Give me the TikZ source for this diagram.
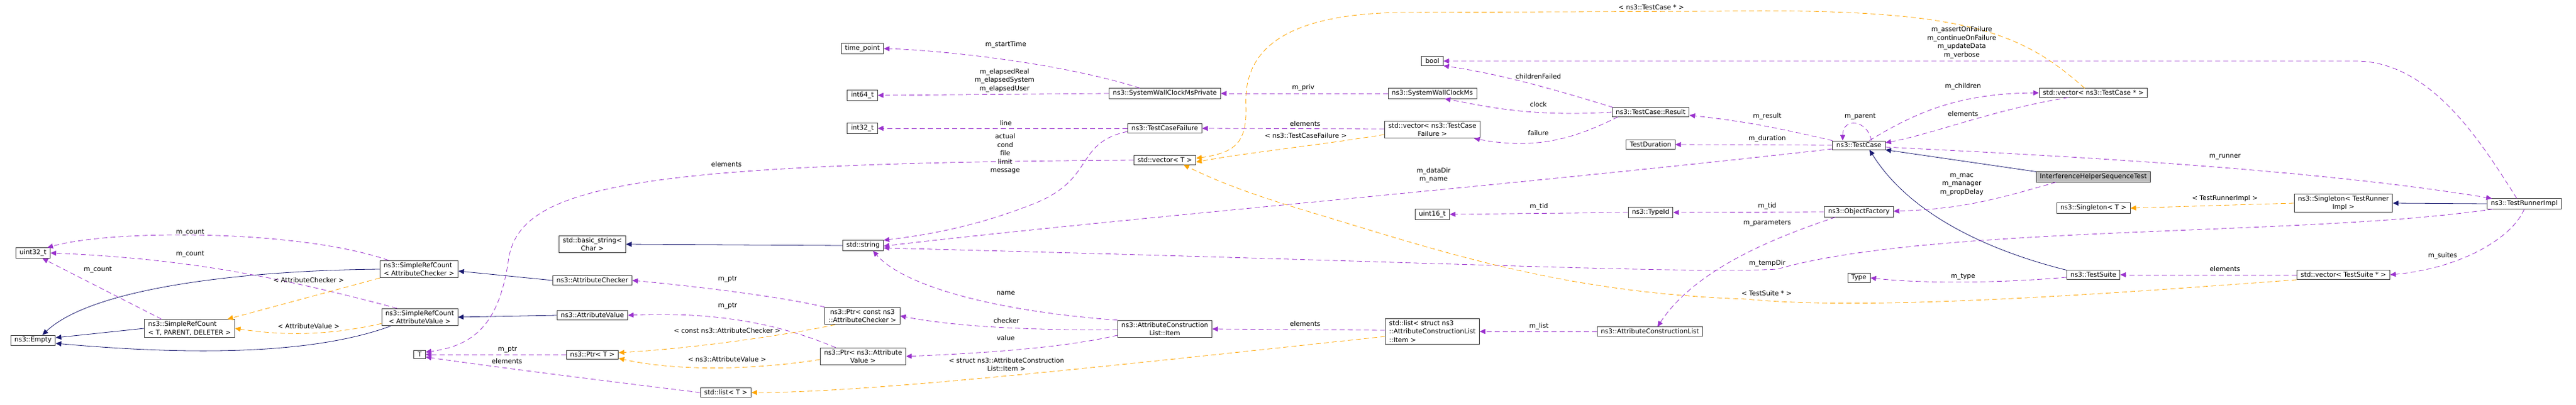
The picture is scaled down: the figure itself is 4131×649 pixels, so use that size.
\documentclass[tikz,border=0pt]{standalone}
\usepackage{fontspec}
\setmainfont{DejaVu Sans}
\usetikzlibrary{arrows.meta}
\definecolor{usecol}{RGB}{154,50,205}
\definecolor{tmplcol}{RGB}{255,165,0}
\definecolor{inhcol}{RGB}{25,25,112}
\tikzset{
  cls/.style={draw=black!75, fill=white, line width=0.9pt, align=center, inner xsep=6pt, inner ysep=3pt, font=\fontsize{10.5}{13.5}\selectfont},
  lbl/.style={align=center, inner sep=0pt, font=\fontsize{10.5}{13.5}\selectfont},
  tip/.style={-{Triangle[length=9pt,width=8pt]}},
  use/.style={tip, draw=usecol, line width=0.8pt, dash pattern=on 8pt off 5pt},
  tmpl/.style={tip, draw=tmplcol, line width=0.8pt, dash pattern=on 8pt off 5pt},
  inh/.style={tip, draw=inhcol, line width=0.8pt}
}
\begin{document}
\begin{tikzpicture}[x=1pt, y=-1pt]
    \useasboundingbox (0,0) rectangle (4131,649);

    \node[cls] (empty) at (53,546) {ns3::Empty};
    \node[cls] (uintA) at (53,406) {uint32\_t};
    \node[cls, align=left] (srcTPD) at (304,527) {ns3::SimpleRefCount\\< T, PARENT, DELETER >};
    \node[cls, align=left] (srcAC) at (672,432) {ns3::SimpleRefCount\\< AttributeChecker >};
    \node[cls] (srcAV) at (673,509) {ns3::SimpleRefCount\\< AttributeValue >};
    \node[cls] (T) at (673,569) {T};
    \node[cls] (bstr) at (950,392) {std::basic\_string<\\Char >};
    \node[cls] (attrChk) at (950,450) {ns3::AttributeChecker};
    \node[cls] (attrVal) at (950,506) {ns3::AttributeValue};
    \node[cls] (ptrT) at (950,569) {ns3::Ptr< T >};
    \node[cls] (listT) at (1164,630) {std::list< T >};
    \node[cls] (timept) at (1383,78) {time\_point};
    \node[cls] (intA) at (1383,153) {int64\_t};
    \node[cls] (intB) at (1383,206) {int32\_t};
    \node[cls] (str) at (1384,394) {std::string};
    \node[cls] (ptrAC) at (1383,507) {ns3::Ptr< const ns3\\::AttributeChecker >};
    \node[cls] (ptrAV) at (1384,572) {ns3::Ptr< ns3::Attribute\\Value >};
    \node[cls] (swcmp) at (1868,150) {ns3::SystemWallClockMsPrivate};
    \node[cls] (tcf) at (1868,206) {ns3::TestCaseFailure};
    \node[cls] (vecT) at (1868,257) {std::vector< T >};
    \node[cls] (item) at (1868,528) {ns3::AttributeConstruction\\List::Item};
    \node[cls] (boolN) at (2297,98) {bool};
    \node[cls] (swcm) at (2297,150) {ns3::SystemWallClockMs};
    \node[cls] (vecTCF) at (2297,208) {std::vector< ns3::TestCase\\Failure >};
    \node[cls] (u16) at (2297,344) {uint16\_t};
    \node[cls, align=left] (listItem) at (2297,532) {std::list< struct ns3\\::AttributeConstructionList\\::Item >};
    \node[cls] (result) at (2647,180) {ns3::TestCase::Result};
    \node[cls] (dur) at (2647,232) {TestDuration};
    \node[cls] (typeid) at (2647,341) {ns3::TypeId};
    \node[cls] (acl) at (2646,532) {ns3::AttributeConstructionList};
    \node[cls] (tcase) at (2981,233) {ns3::TestCase};
    \node[cls] (objf) at (2981,340) {ns3::ObjectFactory};
    \node[cls] (typeN) at (2981,446) {Type};
    \node[cls] (vecTC) at (3357,149) {std::vector< ns3::TestCase * >};
    \node[cls, fill=black!25] (ihst) at (3357,284) {InterferenceHelperSequenceTest};
    \node[cls] (singT) at (3357,334) {ns3::Singleton< T >};
    \node[cls] (tsuite) at (3357,441) {ns3::TestSuite};
    \node[cls] (singTRI) at (3758,326) {ns3::Singleton< TestRunner\\Impl >};
    \node[cls] (vecTS) at (3758,441) {std::vector< TestSuite * >};
    \node[cls] (tri) at (4048,327) {ns3::TestRunnerImpl};

    \draw[inh] (srcAC.west) .. controls (400,434) and (150,460) .. ([xshift=15pt]empty.north);
    \draw[inh] (srcTPD.west) -- ([yshift=4pt]empty.east);
    \draw[inh] ([xshift=15pt]srcAV.south west) .. controls (500,570) and (300,570) .. ([yshift=-5pt]empty.east);
    \draw[inh] (attrChk.west) -- ([yshift=-3pt]srcAC.east);
    \draw[inh] (attrVal.west) -- (srcAV.east);
    \draw[inh] (str.west) -- (bstr.east);
    \draw[inh] (ihst.north west) -- (tcase.south east);
    \draw[inh] (tsuite.north west) .. controls (3180,400) and (3060,340) .. ([xshift=17pt]tcase.south);
    \draw[inh] (tri.west) -- (singTRI.east);

    \draw[use] ([xshift=14pt]srcAC.north west) .. controls (480,368) and (180,368) .. ([xshift=-5pt]uintA.north east);
    \draw[use] ([xshift=25pt]srcAV.north west) .. controls (450,445) and (300,415) .. (uintA.east);
    \draw[use] ([xshift=-45pt]srcTPD.north) -- ([xshift=15pt]uintA.south);
    \draw[tmpl] (srcAC.south west) -- ([xshift=-12pt]srcTPD.north east);
    \draw[tmpl] ([yshift=4pt]srcAV.south west) .. controls (520,540) and (450,538) .. (srcTPD.east);
    \draw[use] (vecT.west) .. controls (1000,262) and (830,300) .. (815,420) .. controls (800,520) and (760,555) .. ([yshift=4pt]T.east);
    \draw[use] (ptrT.west) -- (T.east);
    \draw[use] (listT.west) .. controls (1000,615) and (800,590) .. ([yshift=-4pt]T.east);
    \draw[use] (ptrAC.north west) .. controls (1250,475) and (1100,458) .. (attrChk.east);
    \draw[use] ([xshift=25pt]ptrAV.north west) .. controls (1250,520) and (1150,500) .. (attrVal.east);
    \draw[tmpl] ([xshift=17pt]ptrAC.south west) .. controls (1250,540) and (1100,560) .. ([yshift=3pt]ptrT.east);
    \draw[tmpl] ([yshift=-5pt]ptrAV.west) .. controls (1200,595) and (1080,595) .. ([yshift=-6pt]ptrT.east);
    \draw[tmpl] ([yshift=-8pt]listItem.west) .. controls (1800,585) and (1400,630) .. (listT.east);

    \draw[use] ([xshift=-40pt]swcmp.north) .. controls (1700,100) and (1500,80) .. (timept.east);
    \draw[use] (swcmp.west) -- (intA.east);
    \draw[use] (tcf.west) -- (intB.east);
    \draw[use] ([yshift=-5pt]tcf.west) .. controls (1720,230) and (1760,290) .. (1650,330) .. controls (1560,365) and (1480,378) .. (str.north east);
    \draw[use] (swcm.west) -- (swcmp.east);
    \draw[use] ([yshift=1pt]vecTCF.west) -- (tcf.east);
    \draw[tmpl] ([yshift=-8pt]vecTCF.west) .. controls (2100,235) and (2000,245) .. ([yshift=-3pt]vecT.east);
    \draw[tmpl] ([xshift=-14pt]vecTC.north) .. controls (3240,50) and (3150,12) .. (2750,18) -- (2250,20) .. controls (2030,22) and (1995,100) .. (1998,170) .. controls (2000,230) and (1980,245) .. ([yshift=3pt]vecT.east);

    \draw[use] ([xshift=-60pt]result.north) .. controls (2450,130) and (2380,115) .. (boolN.south east);
    \draw[use] (result.west) .. controls (2450,188) and (2380,170) .. ([xshift=20pt]swcm.south);
    \draw[use] ([xshift=10pt]result.south west) .. controls (2520,225) and (2460,240) .. ([xshift=-10pt]vecTCF.south east);
    \draw[use] (tcase.north west) .. controls (2850,205) and (2800,195) .. ([yshift=-5pt]result.east);
    \draw[use] (tcase.west) -- (dur.east);
    \draw[use] ([yshift=-6pt]tcase.west) .. controls (2400,300) and (1800,350) .. ([yshift=-1pt]str.east);
    \draw[use] ([xshift=20pt]tcase.north) .. controls (2995,192) and (2955,188) .. ([xshift=-26pt]tcase.north);
    \draw[use] ([xshift=17pt]tcase.north) .. controls (3080,175) and (3150,150) .. (vecTC.west);
    \draw[use] ([xshift=-40pt]vecTC.south) .. controls (3200,175) and (3100,215) .. ([yshift=4pt]tcase.east);
    \draw[use] ([yshift=-3pt]tcase.east) .. controls (3300,250) and (3700,270) .. ([xshift=8pt]tri.north west);
    \draw[use] ([xshift=-12pt]tri.north) .. controls (3980,230) and (3900,100) .. (3780,98) -- (boolN.east);
    \draw[use] ([xshift=10pt]tri.south west) .. controls (3700,380) and (3100,360) .. (2850,432) .. controls (2700,440) and (2300,420) .. ([yshift=-4pt]str.east);
    \draw[use] (tri.south) .. controls (4030,380) and (3950,430) .. (vecTS.east);
    \draw[use] (vecTS.west) -- (tsuite.east);
    \draw[tmpl] ([yshift=-8pt]vecTS.west) .. controls (3400,470) and (3000,500) .. (2800,480) .. controls (2500,470) and (2300,400) .. (2100,340) .. controls (2000,310) and (1950,290) .. ([xshift=30pt]vecT.south);
    \draw[use] ([yshift=-4pt]tsuite.west) .. controls (3200,455) and (3080,455) .. (typeN.east);
    \draw[use] ([xshift=-60pt]ihst.south) .. controls (3200,320) and (3150,335) .. ([yshift=1pt]objf.east);
    \draw[use] (objf.west) -- (typeid.east);
    \draw[use] (typeid.west) -- (u16.east);
    \draw[use] ([xshift=18pt]objf.south west) .. controls (2850,380) and (2720,430) .. ([xshift=12pt]acl.north);
    \draw[use] (acl.west) -- (listItem.east);
    \draw[use] ([yshift=2pt]listItem.west) -- (item.east);
    \draw[use] (item.north west) .. controls (1600,500) and (1450,460) .. ([xshift=16pt]str.south);
    \draw[use] ([yshift=-1pt]item.west) .. controls (1700,530) and (1550,528) .. (ptrAC.east);
    \draw[use] ([yshift=-10pt]item.west) .. controls (1700,560) and (1550,568) .. (ptrAV.east);
    \draw[tmpl] (singTRI.west) -- (singT.east);

    \node[lbl] (lbCountA) at (305,373) {m\_count};
    \node[lbl] (lbCountB) at (305,408) {m\_count};
    \node[lbl] (lbCountC) at (157,433) {m\_count};
    \node[lbl] (lbTmplAC) at (495,450) {< AttributeChecker >};
    \node[lbl] (lbTmplAV) at (495,524) {< AttributeValue >};
    \node[lbl] (lbElemT) at (1165,264) {elements};
    \node[lbl] (lbPtrAC) at (1167,448) {m\_ptr};
    \node[lbl] (lbPtrAV) at (1167,491) {m\_ptr};
    \node[lbl] (lbTmplPAC) at (1166,531) {< const ns3::AttributeChecker >};
    \node[lbl] (lbTmplPAV) at (1166,577) {< ns3::AttributeValue >};
    \node[lbl] (lbPtrT) at (814,561) {m\_ptr};
    \node[lbl] (lbElemLT) at (813,580) {elements};
    \node[lbl] (lbStart) at (1613,72) {m\_startTime};
    \node[lbl] (lbElapsed) at (1611,129) {m\_elapsedReal\\m\_elapsedSystem\\m\_elapsedUser};
    \node[lbl] (lbLine) at (1613,198) {line};
    \node[lbl] (lbFail) at (1612,247) {actual\\cond\\file\\limit\\message};
    \node[lbl] (lbPriv) at (2090,141) {m\_priv};
    \node[lbl] (lbElemTCF) at (2093,199) {elements};
    \node[lbl] (lbTmplTCF) at (2094,218) {< ns3::TestCaseFailure >};
    \node[lbl] (lbName) at (1613,471) {name};
    \node[lbl] (lbChecker) at (1614,515) {checker};
    \node[lbl] (lbValue) at (1613,543) {value};
    \node[lbl] (lbTmplItem) at (1614,585) {< struct ns3::AttributeConstruction\\List::Item >};
    \node[lbl] (lbElemItem) at (2093,520) {elements};
    \node[lbl] (lbTmplTC) at (2648,12) {< ns3::TestCase * >};
    \node[lbl] (lbChildF) at (2467,123) {childrenFailed};
    \node[lbl] (lbClock) at (2467,168) {clock};
    \node[lbl] (lbFailure) at (2467,214) {failure};
    \node[lbl] (lbDataDir) at (2299,281) {m\_dataDir\\m\_name};
    \node[lbl] (lbTidA) at (2468,332) {m\_tid};
    \node[lbl] (lbList) at (2468,524) {m\_list};
    \node[lbl] (lbResult) at (2834,187) {m\_result};
    \node[lbl] (lbDur) at (2834,223) {m\_duration};
    \node[lbl] (lbParent) at (2983,187) {m\_parent};
    \node[lbl] (lbChildren) at (3148,139) {m\_children};
    \node[lbl] (lbElemTC) at (3148,183) {elements};
    \node[lbl] (lbFlags) at (3146,68) {m\_assertOnFailure\\m\_continueOnFailure\\m\_updateData\\m\_verbose};
    \node[lbl] (lbMac) at (3146,296) {m\_mac\\m\_manager\\m\_propDelay};
    \node[lbl] (lbTidB) at (2834,331) {m\_tid};
    \node[lbl] (lbParams) at (2834,358) {m\_parameters};
    \node[lbl] (lbTemp) at (2834,423) {m\_tempDir};
    \node[lbl] (lbTmplTS) at (2833,471) {< TestSuite * >};
    \node[lbl] (lbType) at (3148,444) {m\_type};
    \node[lbl] (lbRunner) at (3568,252) {m\_runner};
    \node[lbl] (lbTmplTRI) at (3568,319) {< TestRunnerImpl >};
    \node[lbl] (lbSuites) at (3917,411) {m\_suites};
    \node[lbl] (lbElemTS) at (3568,432) {elements};
\end{tikzpicture}
\end{document}
